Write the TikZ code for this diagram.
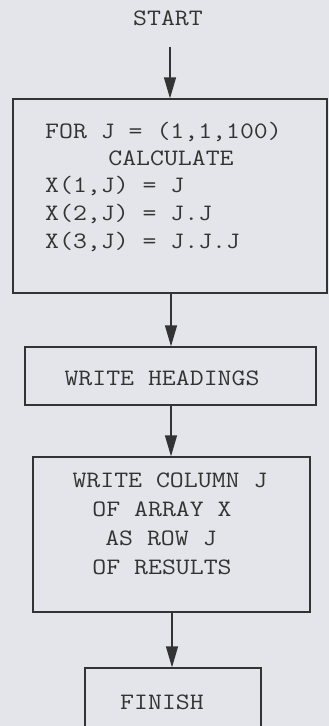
\documentclass[tikz,border=0pt]{standalone}
\usepackage{fontspec}
\setmonofont[FakeStretch=1.15]{Latin Modern Mono}
\usetikzlibrary{arrows.meta}
\definecolor{bg}{HTML}{E4E5EA}
\definecolor{ink}{HTML}{333333}
\tikzset{
  box/.style={draw=ink, line width=1.3pt, rectangle, inner sep=0pt},
  txt/.style={text=ink, font=\ttfamily\fontsize{23.5}{28}\selectfont, inner sep=0pt, anchor=base},
  flow/.style={draw=ink, line width=1.3pt, -{Triangle[length=21pt,width=12pt]}}
}
\begin{document}
\begin{tikzpicture}[x=1pt,y=-1pt]
\fill[bg] (0,0) rectangle (329,726);
\useasboundingbox (0,0) rectangle (329,726);
% boxes
\node[box, minimum width=314pt, minimum height=194pt] (b1) at (170,196) {};
\node[box, minimum width=291pt, minimum height=58pt] (b2) at (170.5,376) {};
\node[box, minimum width=277pt, minimum height=155pt] (b3) at (171.5,534.5) {};
\node[box, minimum width=176pt, minimum height=120pt] (b4) at (173,728) {};
% start
\node[txt, anchor=base] (start) at (168,25) {START};
\coordinate (s0) at (170,47);
% box 1 text
\node[txt, anchor=base west] (l1) at (45,138) {FOR J = (1,1,100)};
\node[txt] (l2) at (171,165) {CALCULATE};
\node[txt, anchor=base west] (l3) at (45,192) {X(1,J) = J};
\node[txt, anchor=base west] (l4) at (45,220) {X(2,J) = J.J};
\node[txt, anchor=base west] (l5) at (45,248) {X(3,J) = J.J.J};
% box 2 text
\node[txt] (h1) at (162,385) {WRITE HEADINGS};
% box 3 text
\node[txt] (c1) at (170,487) {WRITE COLUMN J};
\node[txt] (c2) at (162,516) {OF ARRAY X};
\node[txt] (c3) at (161,545) {AS ROW J};
\node[txt] (c4) at (162,574) {OF RESULTS};
% box 4 text
\node[txt] (f1) at (162,709) {FINISH};
% arrows
\draw[flow] (s0) -- (b1.north -| s0);
\draw[flow] (b1.south -| 171,0) -- (b2.north -| 171,0);
\draw[flow] (b2.south -| 171,0) -- (b3.north -| 171,0);
\draw[flow] (b3.south -| 172,0) -- (b4.north -| 172,0);
\end{tikzpicture}
\end{document}
